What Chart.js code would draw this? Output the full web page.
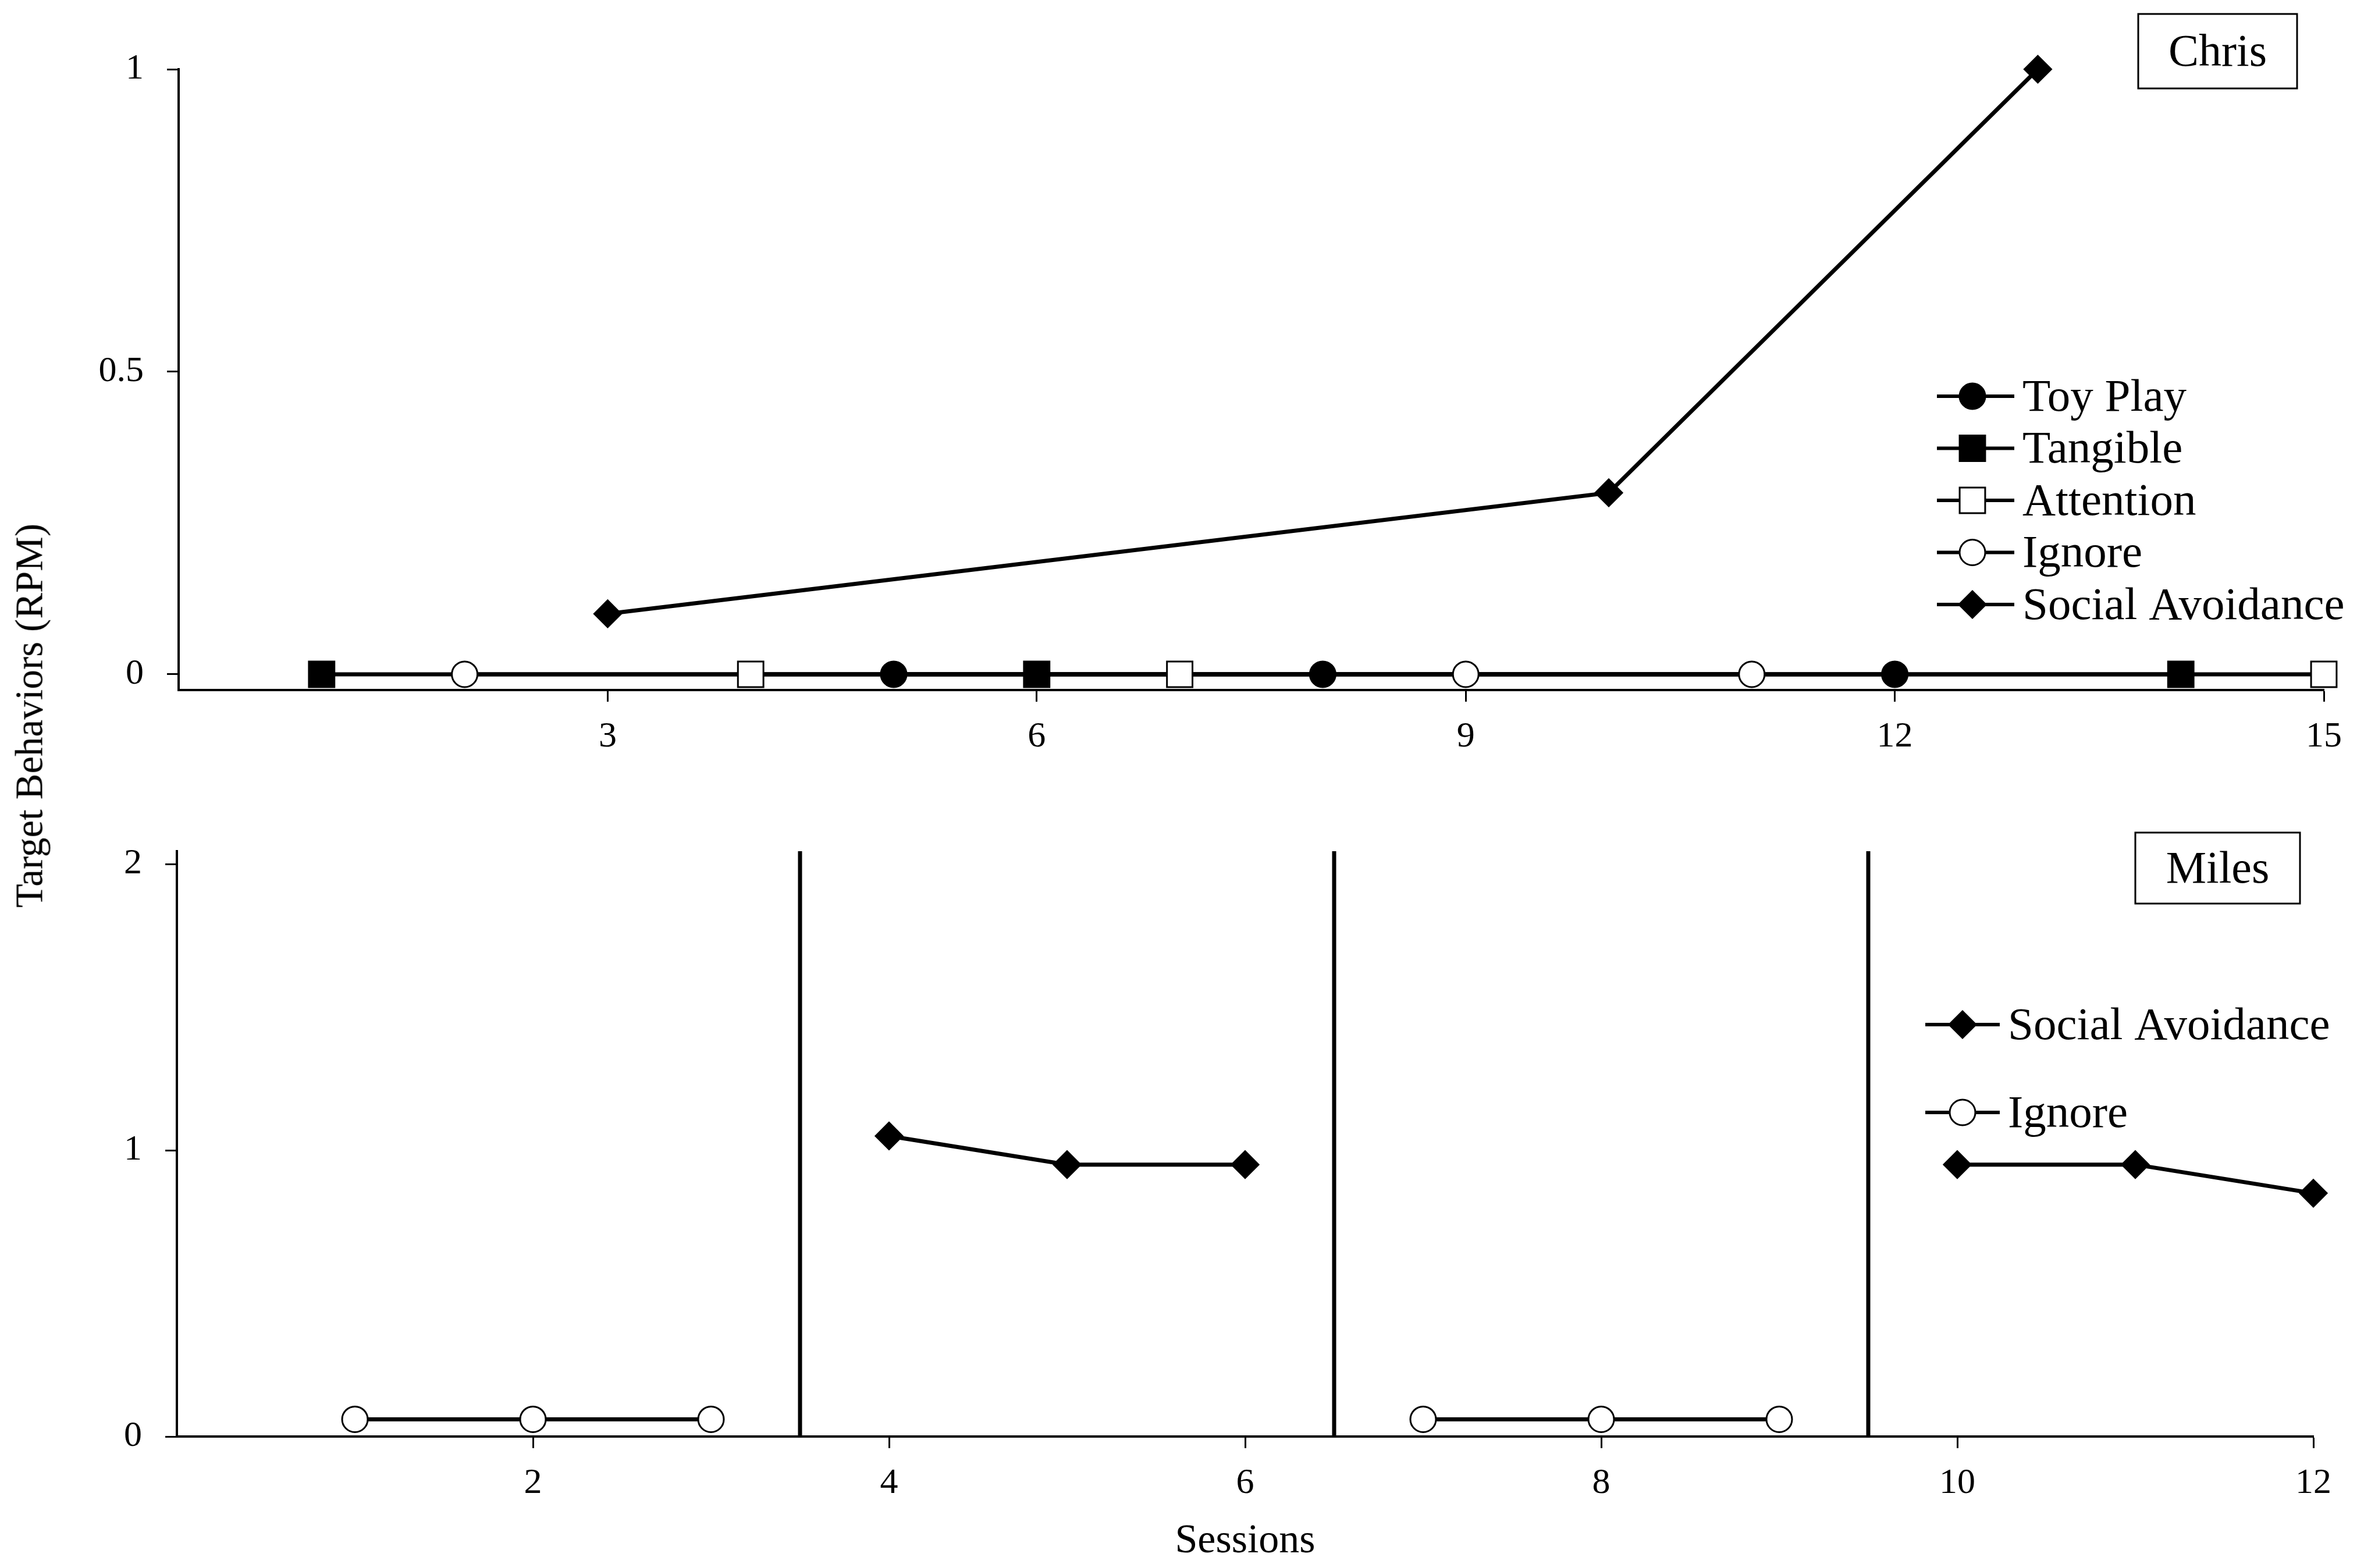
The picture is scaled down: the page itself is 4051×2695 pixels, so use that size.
<!DOCTYPE html>
<html>
<head>
<meta charset="utf-8">
<script src="https://cdn.jsdelivr.net/npm/chart.js@4.4.1/dist/chart.umd.min.js"></script>
<style>
html, body { margin:0; padding:0; background:#fff; }
#page { position:relative; width:4051px; height:2695px; overflow:hidden; background:#fff; }
canvas { position:absolute; left:0; }
#chrisChart { top:0; }
#milesChart { top:1340px; }
#yTitle {
  position:absolute; left:50px; top:1230px;
  transform:translate(-50%,-50%) rotate(-90deg);
  font-family:'Times New Roman','Liberation Serif',serif;
  font-size:67px; line-height:1; white-space:nowrap; color:#000;
}
</style>
</head>
<body>
<div id="page">
  <canvas id="chrisChart" width="4051" height="1340"></canvas>
  <canvas id="milesChart" width="4051" height="1355"></canvas>
  <div id="yTitle">Target Behaviors (RPM)</div>
</div>
<script>
// Chris (top panel), one condition per session, null = condition not run
var chrisSessions  = [1,2,3,4,5,6,7,8,9,10,11,12,13,14,15];
var chrisToyPlay   = [null,null,null,null,0,null,null,0,null,null,null,0,null,null,null];
var chrisTangible  = [0,null,null,null,null,0,null,null,null,null,null,null,null,0,null];
var chrisAttention = [null,null,null,0,null,null,0,null,null,null,null,null,null,null,0];
var chrisIgnore    = [null,0,null,null,null,null,null,null,0,null,0,null,null,null,null];
var chrisSocial    = [null,null,0.1,null,null,null,null,null,null,0.3,null,null,1,null,null];
var chrisXTicks = [3,6,9,12,15];
var chrisYTicks = [0,0.5,1];

// Miles (bottom panel), phases split by gaps
var milesSessions = [1,2,3,4,5,6,7,8,9,10,11,12];
var milesIgnore   = [0.06,0.06,0.06,null,null,null,0.06,0.06,0.06,null,null,null];
var milesSocial   = [null,null,null,1.05,0.95,0.95,null,null,null,0.95,0.95,0.85];
var milesPhaseLines = [3.5,6.5,9.5];
var milesXTicks = [2,4,6,8,10,12];
var milesYTicks = [0,1,2];

var FONT = "'Times New Roman', 'Liberation Serif', serif";
Chart.defaults.font.family = FONT;
Chart.defaults.color = '#000';

// marker looks (Excel style)
var MARK = {
  toy:       {pointStyle:'circle',  radius:22, fill:'#000'},
  tangible:  {pointStyle:'rect',    radius:31, fill:'#000'},
  attention: {pointStyle:'rect',    radius:31, fill:'#fff'},
  ignore:    {pointStyle:'circle',  radius:22, fill:'#fff'},
  social:    {pointStyle:'rectRot', radius:23, fill:'#000'}
};

function pts(xs, ys) {
  return xs.map(function(x, i){ return {x:x, y:ys[i]}; });
}

// lines go under every marker, so they get their own layer
function lineLayer(data, span) {
  return {data:data, showLine:true, spanGaps:span, borderColor:'#000', borderWidth:7,
          pointRadius:0, order:2, clip:false};
}
function markLayer(data, m) {
  return {data:data, showLine:false, pointStyle:m.pointStyle, pointRadius:m.radius,
          pointBackgroundColor:m.fill, pointBorderColor:'#000', pointBorderWidth:3,
          order:1, clip:false};
}

function drawMarker(ctx, m, x, y) {
  ctx.fillStyle = m.fill; ctx.strokeStyle = '#000'; ctx.lineWidth = 3;
  Chart.helpers.drawPoint(ctx, {pointStyle:m.pointStyle, radius:m.radius, rotation:0, borderWidth:3}, x, y);
}

var phaseLinePlugin = {
  id:'phaseLines',
  beforeDatasetsDraw: function(chart, args, opts) {
    if (!opts.values) return;
    var xs = chart.scales.x, a = chart.chartArea, ctx = chart.ctx;
    ctx.save();
    ctx.strokeStyle = '#000'; ctx.lineWidth = 7;
    opts.values.forEach(function(v){
      var px = xs.getPixelForValue(v);
      ctx.beginPath(); ctx.moveTo(px, a.top); ctx.lineTo(px, a.bottom); ctx.stroke();
    });
    ctx.restore();
  }
};

var panelLegendPlugin = {
  id:'panelLegend',
  afterDraw: function(chart, args, o) {
    if (!o.items) return;
    var ctx = chart.ctx;
    ctx.save();
    o.items.forEach(function(it, i){
      var y = o.y0 + i * o.dy;
      ctx.strokeStyle = '#000'; ctx.lineWidth = 6;
      ctx.beginPath(); ctx.moveTo(o.x0, y); ctx.lineTo(o.x1, y); ctx.stroke();
      drawMarker(ctx, it.mark, o.mx, y);
      ctx.fillStyle = '#000';
      ctx.font = o.size + 'px ' + FONT;
      ctx.textBaseline = 'middle'; ctx.textAlign = 'left';
      ctx.fillText(it.label, o.tx, y + 4);
    });
    ctx.restore();
  }
};

var panelNamePlugin = {
  id:'panelName',
  afterDraw: function(chart, args, o) {
    if (!o.text) return;
    var ctx = chart.ctx;
    ctx.save();
    ctx.fillStyle = '#fff';
    ctx.fillRect(o.left, o.top, o.w, o.h);
    ctx.strokeStyle = '#000'; ctx.lineWidth = 3;
    ctx.strokeRect(o.left, o.top, o.w, o.h);
    ctx.fillStyle = '#000';
    ctx.font = '78px ' + FONT;
    ctx.textAlign = 'center'; ctx.textBaseline = 'middle';
    ctx.fillText(o.text, o.left + o.w / 2, o.top + o.h / 2 + 5);
    ctx.restore();
  }
};

function xAxis(min, max, ticks, h, title) {
  return {
    type:'linear', min:min, max:max,
    afterBuildTicks: function(s){ s.ticks = ticks.map(function(v){ return {value:v}; }); },
    afterFit: function(s){ s.height = h; },
    grid: {drawOnChartArea:false, drawTicks:true, tickLength:20, tickWidth:3, tickColor:'#000', color:'#000'},
    border: {display:true, color:'#000', width:4},
    ticks: {color:'#000', font:{size:62}, padding:24, maxRotation:0, autoSkip:false,
            callback: function(v){ return String(v); }},
    title: title || {display:false}
  };
}
function yAxis(min, max, ticks) {
  return {
    type:'linear', min:min, max:max,
    afterBuildTicks: function(s){ s.ticks = ticks.map(function(v){ return {value:v}; }); },
    afterFit: function(s){ s.width = 150; },
    grid: {drawOnChartArea:false, drawTicks:true, tickLength:20, tickWidth:3, tickColor:'#000', color:'#000'},
    border: {display:true, color:'#000', width:4},
    ticks: {color:'#000', font:{size:62}, padding:40, autoSkip:false,
            callback: function(v){ return String(v); }}
  };
}

// top panel: Chris
new Chart(document.getElementById('chrisChart'), {
  type:'line',
  data: {datasets: [
    lineLayer(pts(chrisSessions, chrisToyPlay), true),
    lineLayer(pts(chrisSessions, chrisTangible), true),
    lineLayer(pts(chrisSessions, chrisAttention), true),
    lineLayer(pts(chrisSessions, chrisIgnore), true),
    lineLayer(pts(chrisSessions, chrisSocial), true),
    markLayer(pts(chrisSessions, chrisToyPlay), MARK.toy),
    markLayer(pts(chrisSessions, chrisTangible), MARK.tangible),
    markLayer(pts(chrisSessions, chrisAttention), MARK.attention),
    markLayer(pts(chrisSessions, chrisIgnore), MARK.ignore),
    markLayer(pts(chrisSessions, chrisSocial), MARK.social)
  ]},
  options: {
    responsive:false, devicePixelRatio:1, animation:false, events:[],
    layout: {padding:{top:119, left:157, right:57, bottom:14}},
    scales: {
      x: xAxis(0, 15, chrisXTicks, 140),
      y: yAxis(-0.026, 1, chrisYTicks)
    },
    plugins: {
      legend:{display:false}, tooltip:{enabled:false},
      panelLegend: {
        x0:3329, x1:3462, mx:3390, tx:3476, y0:681, dy:89.5, size:79,
        items: [
          {label:'Toy Play', mark:MARK.toy},
          {label:'Tangible', mark:MARK.tangible},
          {label:'Attention', mark:MARK.attention},
          {label:'Ignore', mark:MARK.ignore},
          {label:'Social Avoidance', mark:MARK.social}
        ]
      },
      panelName: {text:'Chris', left:3675, top:24, w:273, h:128}
    }
  },
  plugins:[panelLegendPlugin, panelNamePlugin]
});

// bottom panel: Miles
new Chart(document.getElementById('milesChart'), {
  type:'line',
  data: {datasets: [
    lineLayer(pts(milesSessions, milesSocial), false),
    lineLayer(pts(milesSessions, milesIgnore), false),
    markLayer(pts(milesSessions, milesSocial), MARK.social),
    markLayer(pts(milesSessions, milesIgnore), MARK.ignore)
  ]},
  options: {
    responsive:false, devicePixelRatio:1, animation:false, events:[],
    layout: {padding:{top:123, left:154, right:75, bottom:3}},
    scales: {
      x: xAxis(0, 12, milesXTicks, 223,
        {display:true, text:'Sessions', color:'#000', font:{size:70}, padding:{top:0, bottom:0}}),
      y: yAxis(0, 2.045, milesYTicks)
    },
    plugins: {
      legend:{display:false}, tooltip:{enabled:false},
      phaseLines: {values: milesPhaseLines},
      panelLegend: {
        x0:3309, x1:3437, mx:3373, tx:3451, y0:421, dy:151, size:79,
        items: [
          {label:'Social Avoidance', mark:MARK.social},
          {label:'Ignore', mark:MARK.ignore}
        ]
      },
      panelName: {text:'Miles', left:3670, top:91, w:283, h:122}
    }
  },
  plugins:[phaseLinePlugin, panelLegendPlugin, panelNamePlugin]
});
</script>
</body>
</html>
